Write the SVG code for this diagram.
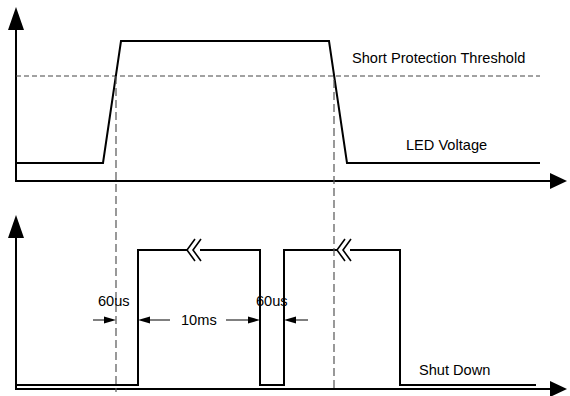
<svg xmlns="http://www.w3.org/2000/svg" width="570" height="396" viewBox="0 0 570 396">
<style>
.ax{stroke:#000;stroke-width:2;fill:none}
.wv{stroke:#000;stroke-width:2;fill:none;stroke-linejoin:miter}
.dh{stroke:#444;stroke-width:1;fill:none;stroke-dasharray:5,3}
.dv{stroke:#555;stroke-width:1.2;fill:none;stroke-dasharray:8,4}
.dim{stroke:#000;stroke-width:1;fill:none}
.br{stroke:#000;stroke-width:1.6;fill:none}
.hd{fill:#000;stroke:none}
text{font-family:"Liberation Sans",Arial,sans-serif;font-size:14.6px;fill:#000}
</style>
<rect width="570" height="396" fill="#fff"/>
<g id="axes">
<line class="ax" x1="16" y1="28" x2="16" y2="182"/>
<line class="ax" x1="15" y1="181" x2="552" y2="181"/>
<polygon class="hd" points="16,7 8,30 24,30"/>
<polygon class="hd" points="550,173 567,181 550,189"/>
<line class="ax" x1="16" y1="236" x2="16" y2="390"/>
<line class="ax" x1="15" y1="389" x2="552" y2="389"/>
<polygon class="hd" points="16,215 8,238 24,238"/>
<polygon class="hd" points="550,381 567,389 550,397"/>
</g>
<g id="threshold">
<line class="dh" x1="16" y1="76" x2="540" y2="76"/>
<text x="352" y="63">Short Protection Threshold</text>
</g>
<g id="led-voltage">
<polyline class="wv" points="16,163 103,163 121,41 329,41 347,163 540,163"/>
<text x="406" y="149.5">LED Voltage</text>
</g>
<g id="shut-down">
<polyline class="wv" points="16,385 138,385 138,250 188,250"/>
<polyline class="wv" points="200,250 260,250 260,385 284,385 284,250 338,250"/>
<polyline class="wv" points="350,250 400,250 400,385 536,385"/>
<polyline class="br" points="195,239 187,250 195,261"/>
<polyline class="br" points="201,239 193,250 201,261"/>
<polyline class="br" points="345,239 337,250 345,261"/>
<polyline class="br" points="351,239 343,250 351,261"/>
<text x="419" y="375">Shut Down</text>
</g>
<g id="connectors">
<line class="dv" x1="116" y1="76" x2="116" y2="392"/>
<line class="dv" x1="334" y1="80" x2="334" y2="392"/>
</g>
<g id="dim-60us-1">
<line class="dim" x1="93" y1="320" x2="106" y2="320"/>
<polygon class="hd" points="104,316.5 116,320 104,323.5"/>
<text x="98" y="306">60us</text>
</g>
<g id="dim-10ms">
<polygon class="hd" points="150,316.5 138,320 150,323.5"/>
<line class="dim" x1="148" y1="320" x2="170" y2="320"/>
<text x="181" y="325">10ms</text>
<line class="dim" x1="226" y1="320" x2="250" y2="320"/>
<polygon class="hd" points="248,316.5 260,320 248,323.5"/>
</g>
<g id="dim-60us-2">
<polygon class="hd" points="296,316.5 284,320 296,323.5"/>
<line class="dim" x1="294" y1="320" x2="308" y2="320"/>
<text x="256" y="306">60us</text>
</g>
</svg>
